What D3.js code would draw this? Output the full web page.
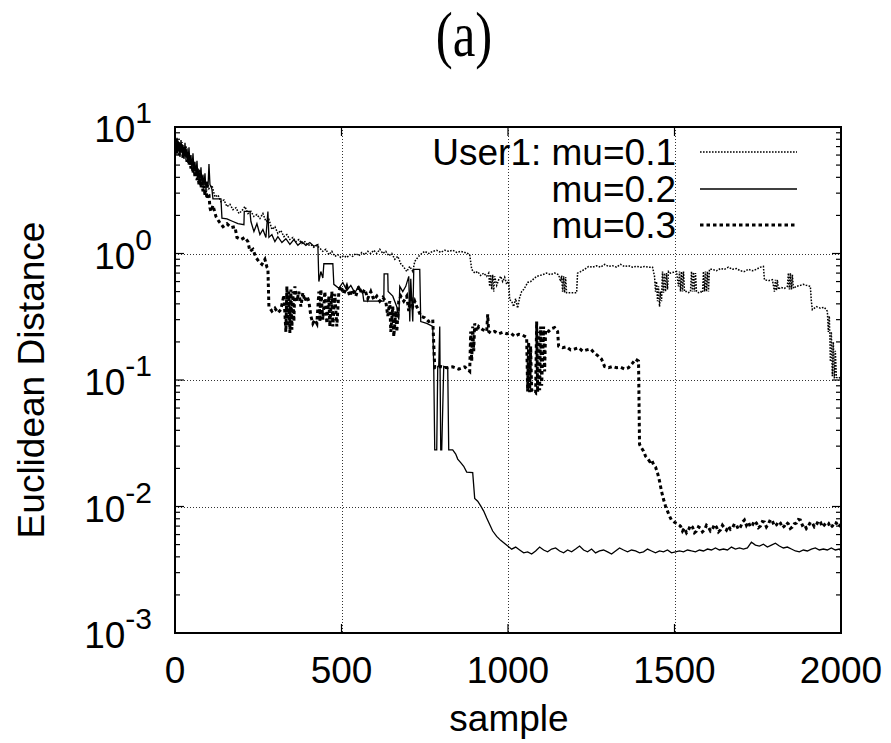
<!DOCTYPE html>
<html>
<head>
<meta charset="utf-8">
<script src="https://cdn.jsdelivr.net/npm/d3@7"></script>
<style>
  html, body { margin: 0; padding: 0; background: #fff; }
  svg { display: block; }
  text { font-family: "Liberation Sans", Arial, Helvetica, sans-serif; fill: #000; }
</style>
</head>
<body>
<svg id="chart" width="891" height="743"></svg>
<script>
// ---------------- DATA ----------------
const titleText = "(a)";
const xLabel = "sample";
const yLabel = "Euclidean Distance";
const xTicks = [0, 500, 1000, 1500, 2000];
const yTickExponents = [-3, -2, -1, 0, 1];
const seriesNames = ["User1: mu=0.1", "mu=0.2", "mu=0.3"];

// [sample, value] pairs
const mu01 = [
[0,7.0],[3,8.0],[6,6.6],[9,7.8],[12,6.3],[15,7.5],[18,6.6],[21,7.6],[24,6.1],[27,7.0],[30,6.5],[33,7.1],[36,5.9],[39,6.4],[42,5.6],[45,6.0],[48,5.1],[51,5.6],[54,4.9],[57,5.3],[60,4.5],[63,4.8],[66,4.2],[69,4.7],[72,4.1],[75,4.6],[78,3.8],[81,4.1],[84,3.6],[87,3.9],[90,3.5],[93,3.7],[96,3.3],[99,3.5],[102,3.25],[111,3.45],[120,2.8],[129,2.9],[138,2.57],[147,2.65],[156,2.35],[165,2.45],[174,2.22],[183,2.3],[192,2.07],[201,2.18],[210,2.35],[219,2.07],[228,2.15],[237,1.96],[246,2.03],[255,1.89],[264,2.07],[273,1.79],[282,1.86],[291,1.55],[300,1.63],[309,1.44],[318,1.52],[327,1.36],[336,1.41],[345,1.29],[354,1.34],[363,1.24],[372,1.29],[381,1.2],[390,1.24],[399,1.16],[408,1.18],[417,1.12],[426,1.16],[435,1.1],[444,1.04],[453,1.08],[462,0.98],[471,1.04],[480,0.95],[489,0.98],[498,0.93],[507,0.96],[516,0.93],[525,0.98],[534,0.95],[543,1.0],[552,0.96],[561,1.02],[570,0.98],[579,1.04],[588,1.0],[597,1.06],[606,1.0],[615,1.08],[624,1.0],[633,1.04],[642,0.96],[651,1.0],[660,0.9],[669,0.95],[678,0.83],[687,0.78],[696,0.72],[705,0.79],[714,0.72],[720,0.865],[726,0.91],[732,0.95],[741,1.0],[750,1.04],[762,1.0],[774,1.04],[786,1.06],[798,1.02],[810,1.06],[822,1.04],[834,1.06],[846,1.02],[858,1.04],[870,1.02],[879,1.0],[885,0.98],[891,0.75],[900,0.7],[909,0.72],[918,0.67],[927,0.7],[936,0.66],[942,0.7],[945,0.55],[948,0.68],[951,0.52],[954,0.68],[957,0.5],[960,0.66],[966,0.56],[972,0.62],[978,0.66],[984,0.6],[990,0.65],[996,0.57],[1002,0.62],[1005,0.43],[1011,0.42],[1017,0.38],[1023,0.44],[1029,0.37],[1035,0.45],[1041,0.5],[1047,0.52],[1053,0.55],[1059,0.59],[1068,0.6],[1077,0.63],[1086,0.66],[1095,0.67],[1104,0.68],[1116,0.7],[1128,0.68],[1140,0.7],[1152,0.68],[1158,0.6],[1161,0.67],[1164,0.5],[1167,0.66],[1170,0.49],[1173,0.65],[1176,0.49],[1182,0.49],[1194,0.49],[1206,0.49],[1209,0.7],[1218,0.72],[1230,0.75],[1242,0.79],[1254,0.78],[1266,0.8],[1278,0.78],[1290,0.82],[1302,0.79],[1314,0.8],[1326,0.78],[1338,0.82],[1350,0.79],[1362,0.8],[1374,0.78],[1386,0.79],[1398,0.78],[1410,0.79],[1422,0.78],[1434,0.78],[1440,0.66],[1443,0.5],[1446,0.6],[1449,0.42],[1452,0.55],[1455,0.38],[1458,0.5],[1461,0.42],[1464,0.72],[1467,0.49],[1470,0.7],[1473,0.5],[1476,0.7],[1479,0.52],[1482,0.72],[1488,0.7],[1497,0.71],[1506,0.72],[1512,0.55],[1515,0.72],[1518,0.5],[1521,0.72],[1524,0.5],[1527,0.72],[1530,0.5],[1536,0.5],[1542,0.49],[1548,0.5],[1551,0.72],[1554,0.5],[1557,0.71],[1560,0.5],[1563,0.7],[1566,0.5],[1572,0.49],[1578,0.5],[1584,0.49],[1587,0.72],[1590,0.5],[1593,0.72],[1596,0.5],[1599,0.72],[1602,0.5],[1605,0.75],[1614,0.75],[1626,0.73],[1638,0.76],[1650,0.75],[1662,0.78],[1674,0.75],[1686,0.76],[1698,0.73],[1710,0.72],[1722,0.75],[1734,0.73],[1746,0.75],[1758,0.78],[1767,0.79],[1770,0.62],[1782,0.61],[1794,0.62],[1800,0.5],[1803,0.62],[1806,0.51],[1809,0.62],[1812,0.52],[1818,0.54],[1830,0.53],[1839,0.55],[1842,0.7],[1845,0.52],[1848,0.7],[1851,0.52],[1854,0.68],[1857,0.53],[1866,0.55],[1878,0.56],[1887,0.57],[1896,0.56],[1908,0.55],[1911,0.42],[1914,0.36],[1926,0.38],[1938,0.37],[1950,0.375],[1959,0.35],[1962,0.24],[1965,0.32],[1968,0.14],[1971,0.24],[1974,0.107],[1977,0.2],[1980,0.103],[1983,0.17],[1986,0.105],[1992,0.103],[1998,0.105],[2000,0.098]
];

const mu02 = [
[0,7.8],[3,6.0],[6,8.2],[9,6.5],[12,7.6],[15,5.8],[18,7.9],[21,6.2],[24,7.2],[27,5.6],[30,7.5],[33,5.5],[36,6.8],[39,5.2],[42,6.9],[45,5.0],[48,6.0],[51,4.6],[54,6.2],[57,4.5],[60,5.3],[63,4.2],[66,5.4],[69,3.9],[72,4.6],[75,3.7],[78,4.8],[81,3.5],[84,4.2],[87,3.4],[90,4.3],[93,3.2],[96,3.7],[99,3.3],[102,5.1],[105,3.5],[108,3.4],[111,3.2],[114,2.7],[138,2.7],[141,1.9],[156,1.88],[174,1.79],[189,1.72],[207,1.69],[208,2.15],[225,2.15],[228,1.79],[237,1.49],[246,1.72],[255,1.41],[264,1.55],[273,1.34],[279,2.15],[282,1.34],[291,1.41],[300,1.24],[309,1.36],[321,1.22],[333,1.31],[345,1.18],[357,1.29],[369,1.16],[381,1.24],[393,1.16],[405,1.22],[417,1.14],[429,1.18],[432,0.60],[438,0.72],[444,0.64],[447,0.83],[474,0.83],[477,0.57],[492,0.53],[504,0.59],[516,0.51],[528,0.56],[540,0.49],[552,0.55],[564,0.48],[567,0.42],[594,0.42],[627,0.42],[628,0.69],[639,0.69],[640,0.50],[654,0.46],[666,0.38],[672,0.30],[675,0.55],[684,0.50],[693,0.55],[702,0.66],[705,0.29],[708,0.63],[714,0.29],[717,0.75],[735,0.75],[738,0.29],[756,0.28],[774,0.265],[777,0.128],[780,0.028],[786,0.028],[789,0.128],[792,0.128],[795,0.265],[798,0.028],[801,0.028],[807,0.128],[819,0.125],[822,0.028],[834,0.028],[843,0.026],[849,0.0237],[858,0.0222],[867,0.0208],[876,0.0187],[894,0.0185],[900,0.0116],[909,0.011],[918,0.0101],[927,0.0092],[936,0.0081],[945,0.0072],[954,0.0064],[966,0.0058],[978,0.0054],[990,0.0051],[1002,0.0048],[1011,0.0046],
[1023,0.00478],[1035,0.00453],[1047,0.0043],[1059,0.00438],[1071,0.00421],[1083,0.00445],[1095,0.00478],[1107,0.00453],[1119,0.00438],[1131,0.00461],[1143,0.0047],[1155,0.00445],[1167,0.0043],[1179,0.00453],[1191,0.00438],[1203,0.00461],[1215,0.00487],[1227,0.00453],[1239,0.00438],[1251,0.00461],[1263,0.0043],[1275,0.00445],[1287,0.00453],[1299,0.00438],[1311,0.00421],[1323,0.00445],[1335,0.0047],[1347,0.00453],[1359,0.00438],[1371,0.00453],[1383,0.00445],[1395,0.0043],[1407,0.00438],[1419,0.00461],[1431,0.00445],[1443,0.0043],[1455,0.00445],[1467,0.00438],[1479,0.00453],[1491,0.0043],[1503,0.00438],[1515,0.00445],[1527,0.00438],[1539,0.00453],[1551,0.00445],[1563,0.00438],[1575,0.00453],[1587,0.00445],[1599,0.00461],[1611,0.00453],[1623,0.0047],[1635,0.00453],[1647,0.00461],[1659,0.00453],[1671,0.00478],[1683,0.00461],[1695,0.0047],[1707,0.00461],[1719,0.0047],[1731,0.00522],[1743,0.00495],[1755,0.00487],[1767,0.00504],[1779,0.00478],[1791,0.00495],[1803,0.00513],[1815,0.00487],[1827,0.0047],[1839,0.00478],[1851,0.00461],[1863,0.00445],[1875,0.00438],[1887,0.00453],[1899,0.00445],[1911,0.00461],[1923,0.0047],[1935,0.00453],[1947,0.00461],[1959,0.00453],[1971,0.0047],[1983,0.00453],[1995,0.00461],[2000,0.00445]
];

const mu03 = [
[0,6.8],[3,8.0],[6,6.2],[9,7.6],[12,6.0],[15,7.4],[18,6.3],[21,7.2],[24,5.7],[27,6.9],[30,5.8],[33,6.5],[36,5.3],[39,6.0],[42,5.0],[45,5.6],[48,4.7],[51,5.2],[54,4.3],[57,4.9],[60,4.0],[63,4.5],[66,3.8],[69,4.2],[72,3.5],[75,3.9],[78,3.3],[81,3.7],[84,3.1],[87,3.4],[90,2.9],[93,3.2],[96,2.7],[99,3.0],[102,2.9],[105,2.3],[108,2.15],[114,2.4],[123,1.96],[132,1.79],[144,1.63],[156,1.72],[168,1.6],[180,1.63],[186,1.34],[198,1.29],[210,1.34],[219,1.24],[225,1.04],[234,1.08],[243,0.93],[252,0.865],[261,0.82],[270,0.9],[276,0.78],[279,0.76],[282,0.38],[291,0.35],[300,0.37],[309,0.34],[318,0.36],[327,0.47],[333,0.24],[336,0.55],[339,0.265],[342,0.5],[345,0.235],[348,0.52],[351,0.25],[354,0.5],[357,0.29],[360,0.55],[366,0.42],[372,0.5],[378,0.38],[384,0.49],[390,0.42],[396,0.46],[402,0.42],[408,0.32],[414,0.28],[420,0.30],[426,0.28],[432,0.5],[435,0.29],[438,0.52],[444,0.30],[450,0.5],[456,0.28],[462,0.46],[465,0.265],[471,0.5],[474,0.265],[480,0.48],[486,0.265],[492,0.5],[498,0.55],[507,0.48],[516,0.55],[525,0.46],[534,0.52],[543,0.46],[552,0.55],[561,0.48],[570,0.52],[579,0.44],[588,0.5],[597,0.43],[606,0.46],[615,0.42],[624,0.45],[633,0.42],[639,0.32],[645,0.42],[648,0.24],[654,0.38],[657,0.22],[663,0.35],[666,0.24],[672,0.42],[678,0.46],[687,0.42],[696,0.46],[702,0.35],[708,0.46],[714,0.38],[720,0.42],[726,0.38],[732,0.35],[738,0.32],[750,0.31],[762,0.29],[774,0.30],[780,0.125],[798,0.128],[816,0.125],[834,0.127],[852,0.122],[870,0.127],[885,0.117],[888,0.242],[891,0.141],[894,0.265],[897,0.169],[900,0.28],[906,0.242],[912,0.265],[924,0.25],[936,0.242],[939,0.33],[942,0.242],[948,0.235],[960,0.242],[972,0.232],[984,0.238],[996,0.232],[1008,0.235],[1020,0.221],[1032,0.23],[1044,0.226],[1056,0.218],[1059,0.081],[1062,0.2],[1065,0.08],[1068,0.185],[1071,0.083],[1077,0.081],[1083,0.079],[1086,0.29],[1089,0.08],[1092,0.242],[1095,0.083],[1098,0.265],[1101,0.09],[1107,0.265],[1110,0.117],[1113,0.25],[1122,0.242],[1131,0.255],[1140,0.26],[1149,0.242],[1152,0.185],[1164,0.18],[1176,0.183],[1188,0.173],[1200,0.176],[1212,0.18],[1224,0.169],[1236,0.173],[1248,0.176],[1260,0.163],[1272,0.154],[1281,0.146],[1290,0.128],[1302,0.125],[1314,0.128],[1326,0.125],[1338,0.126],[1350,0.122],[1362,0.125],[1374,0.136],[1383,0.146],[1392,0.141],[1395,0.031],[1401,0.029],[1407,0.0274],[1413,0.025],[1419,0.024],[1425,0.0228],[1431,0.0235],[1437,0.0215],[1443,0.0205],[1449,0.0184],[1455,0.0159],[1461,0.0132],[1467,0.0114],[1473,0.0101],[1479,0.0092],[1485,0.0084],[1491,0.0078],[1500,0.0075],[1509,0.0073],
[1518,0.0070],[1524,0.0064],[1530,0.00676],[1536,0.0062],[1542,0.00652],[1548,0.0071],[1554,0.00688],[1560,0.0062],[1566,0.0064],[1572,0.0069],[1578,0.00676],[1584,0.0063],[1590,0.00652],[1596,0.0071],[1602,0.00688],[1608,0.0064],[1614,0.00664],[1620,0.0072],[1626,0.00688],[1632,0.0063],[1638,0.00652],[1644,0.0071],[1650,0.00676],[1656,0.0065],[1662,0.007],[1668,0.0066],[1674,0.00676],[1680,0.0073],[1686,0.00714],[1692,0.0066],[1698,0.00688],[1704,0.0075],[1710,0.00782],[1716,0.0071],[1722,0.00754],[1728,0.0069],[1734,0.00714],[1740,0.0077],[1746,0.0074],[1752,0.0068],[1758,0.007],[1764,0.0076],[1770,0.00754],[1776,0.0069],[1782,0.00727],[1788,0.0079],[1794,0.00767],[1800,0.0070],[1806,0.00714],[1812,0.0076],[1818,0.0074],[1824,0.0068],[1830,0.007],[1836,0.0075],[1842,0.00727],[1848,0.0067],[1854,0.00688],[1860,0.0073],[1866,0.0074],[1872,0.0079],[1878,0.00782],[1884,0.0071],[1890,0.00727],[1896,0.0067],[1902,0.007],[1908,0.0075],[1914,0.0074],[1920,0.0069],[1926,0.00714],[1932,0.0077],[1938,0.00754],[1944,0.0069],[1950,0.00714],[1956,0.0075],[1962,0.0074],[1968,0.0068],[1974,0.007],[1980,0.0075],[1986,0.0074],[1992,0.0069],[1998,0.00714],[2000,0.0072]
];

// ---------------- DRAWING ----------------
const svg = d3.select("#chart");
const L = 175, R = 841, T = 127, B = 633;
const x = d3.scaleLinear().domain([0, 2000]).range([L, R]);
const y = d3.scaleLog().domain([1e-3, 10]).range([B, T]);

svg.append("defs").append("clipPath").attr("id", "plotclip")
  .append("rect").attr("x", L).attr("y", T).attr("width", R - L).attr("height", B - T);

// grid
const grid = svg.append("g").attr("stroke", "#333").attr("stroke-width", 1)
  .attr("stroke-dasharray", "1,2").attr("shape-rendering", "crispEdges");
xTicks.filter(v => v > 0 && v < 2000).forEach(v => {
  grid.append("line").attr("x1", Math.round(x(v)) + 0.5).attr("x2", Math.round(x(v)) + 0.5)
    .attr("y1", T).attr("y2", B);
});
yTickExponents.filter(e => e > -3 && e < 1).forEach(e => {
  const yy = Math.round(y(Math.pow(10, e))) + 0.5;
  grid.append("line").attr("x1", L).attr("x2", R).attr("y1", yy).attr("y2", yy);
});

// ticks (inward), minor log ticks on both sides
const minorVals = [];
for (let e = -3; e < 1; e++) for (let m = 2; m <= 9; m++) minorVals.push(m * Math.pow(10, e));
const tickG = svg.append("g").attr("stroke", "#000").attr("stroke-width", 1.2);
minorVals.forEach(v => {
  const yy = y(v);
  tickG.append("line").attr("x1", L).attr("x2", L + 5).attr("y1", yy).attr("y2", yy);
  tickG.append("line").attr("x1", R).attr("x2", R - 5).attr("y1", yy).attr("y2", yy);
});
yTickExponents.forEach(e => {
  const yy = y(Math.pow(10, e));
  tickG.append("line").attr("x1", L).attr("x2", L + 9).attr("y1", yy).attr("y2", yy);
  tickG.append("line").attr("x1", R).attr("x2", R - 9).attr("y1", yy).attr("y2", yy);
});
xTicks.forEach(v => {
  tickG.append("line").attr("x1", x(v)).attr("x2", x(v)).attr("y1", B).attr("y2", B - 9);
  tickG.append("line").attr("x1", x(v)).attr("x2", x(v)).attr("y1", T).attr("y2", T + 9);
});

// series
const line = d3.line().x(d => x(d[0])).y(d => y(d[1]));
const plot = svg.append("g").attr("clip-path", "url(#plotclip)").attr("fill", "none")
  .attr("stroke-linejoin", "miter").attr("stroke-linecap", "butt");
const styles = [
  { data: mu01, width: 1.5, dash: "1.6,1.4" },
  { data: mu02, width: 1.3, dash: null },
  { data: mu03, width: 3, dash: "3.5,3" }
];
styles.forEach(s => {
  const p = plot.append("path").attr("d", line(s.data)).attr("stroke", "#000")
    .attr("stroke-width", s.width);
  if (s.dash) p.attr("stroke-dasharray", s.dash);
});

// frame
svg.append("rect").attr("x", L).attr("y", T).attr("width", R - L).attr("height", B - T)
  .attr("fill", "none").attr("stroke", "#000").attr("stroke-width", 2);

// x tick labels
xTicks.forEach(v => {
  svg.append("text").attr("x", x(v)).attr("y", 683).attr("text-anchor", "middle")
    .attr("font-size", 37).text(v);
});
// y tick labels
yTickExponents.forEach(e => {
  const yy = y(Math.pow(10, e));
  const t = svg.append("text").attr("x", 152).attr("y", yy + 15)
    .attr("text-anchor", "end").attr("font-size", 37);
  t.append("tspan").text("10");
  t.append("tspan").attr("font-size", 30).attr("dy", -19).text(String(e));
});

// axis titles
svg.append("text").attr("x", 509).attr("y", 731).attr("text-anchor", "middle")
  .attr("font-size", 37).text(xLabel);
svg.append("text").attr("transform", "translate(44,380) rotate(-90)")
  .attr("text-anchor", "middle").attr("font-size", 37).text(yLabel);

// title
svg.append("text").attr("transform", "translate(464,56) scale(1,1.25)")
  .attr("text-anchor", "middle").attr("font-size", 51)
  .style("font-family", "'Liberation Serif', 'Times New Roman', serif").text(titleText);

// legend
const legY = [165, 202, 238];
styles.forEach((s, i) => {
  svg.append("text").attr("x", 676).attr("y", legY[i]).attr("text-anchor", "end")
    .attr("font-size", 37).text(seriesNames[i]);
  const ly = legY[i] - 13;
  const l = svg.append("line").attr("x1", 700).attr("x2", 797).attr("y1", ly).attr("y2", ly)
    .attr("stroke", "#000").attr("stroke-width", s.width);
  if (s.dash) l.attr("stroke-dasharray", s.dash);
});
</script>
</body>
</html>
